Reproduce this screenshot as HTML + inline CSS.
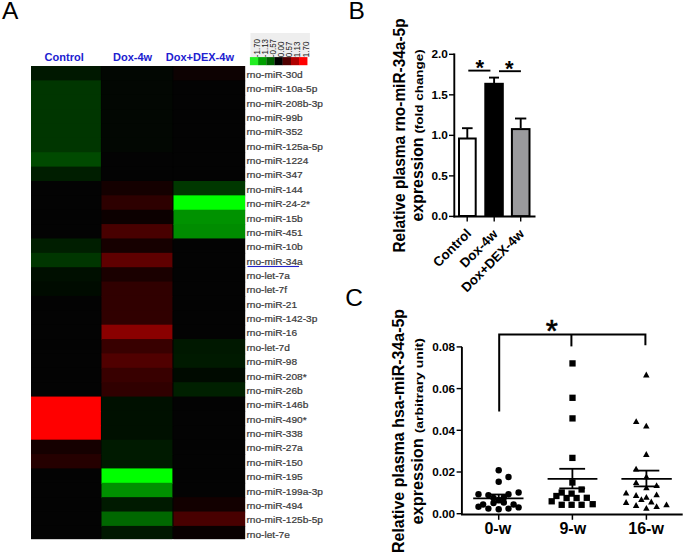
<!DOCTYPE html>
<html><head><meta charset="utf-8"><title>Figure</title><style>
*{margin:0;padding:0}
html,body{width:685px;height:555px;overflow:hidden;background:#fff}
svg{display:block}
text{font-family:"Liberation Sans", sans-serif}
.lab{font-size:9.2px;fill:#3a3a3a;stroke:#3a3a3a;stroke-width:0.22px}
.hdr{font-size:11px;font-weight:bold;fill:#2020d0}
.cbn{font-size:8px;fill:#222}
.big{font-size:24.5px;fill:#000}
.tkB{font-size:11.8px;font-weight:bold}
.star{font-size:22px;font-weight:bold}
.star2{font-size:31px;stroke:#000;stroke-width:0.6px}
.ytB1{font-size:16px;font-weight:bold}
.ytB2{font-size:16px;font-weight:bold}
.ytB3{font-size:11.8px;font-weight:bold}
.xlB{font-size:13.3px;font-weight:bold}
.tkC{font-size:10.8px;font-weight:bold}
.xlC{font-size:16px;font-weight:bold}
.ytC1{font-size:16.6px;font-weight:bold}
.ytC2{font-size:16px;font-weight:bold}
.ytC3{font-size:11.8px;font-weight:bold}
</style></head>
<body><svg width="685" height="555" viewBox="0 0 685 555">
<rect x="31" y="66.0" width="214.1" height="473.10" fill="#020202"/>
<rect x="31" y="66.00" width="69.9" height="15.37" fill="rgb(0, 24, 0)"/>
<rect x="101.5" y="66.00" width="70.9" height="15.37" fill="rgb(2, 7, 2)"/>
<rect x="173.5" y="66.00" width="71.6" height="15.37" fill="rgb(13, 2, 2)"/>
<rect x="31" y="80.37" width="69.9" height="15.37" fill="rgb(0, 54, 0)"/>
<rect x="101.5" y="80.37" width="70.9" height="15.37" fill="rgb(2, 7, 2)"/>
<rect x="173.5" y="80.37" width="71.6" height="15.37" fill="rgb(3, 3, 3)"/>
<rect x="31" y="94.74" width="69.9" height="15.37" fill="rgb(0, 54, 0)"/>
<rect x="101.5" y="94.74" width="70.9" height="15.37" fill="rgb(2, 7, 2)"/>
<rect x="173.5" y="94.74" width="71.6" height="15.37" fill="rgb(3, 3, 3)"/>
<rect x="31" y="109.12" width="69.9" height="15.37" fill="rgb(0, 54, 0)"/>
<rect x="101.5" y="109.12" width="70.9" height="15.37" fill="rgb(2, 7, 2)"/>
<rect x="173.5" y="109.12" width="71.6" height="15.37" fill="rgb(3, 3, 3)"/>
<rect x="31" y="123.49" width="69.9" height="15.37" fill="rgb(0, 54, 0)"/>
<rect x="101.5" y="123.49" width="70.9" height="15.37" fill="rgb(2, 7, 2)"/>
<rect x="173.5" y="123.49" width="71.6" height="15.37" fill="rgb(3, 3, 3)"/>
<rect x="31" y="137.86" width="69.9" height="15.37" fill="rgb(0, 54, 0)"/>
<rect x="101.5" y="137.86" width="70.9" height="15.37" fill="rgb(2, 7, 2)"/>
<rect x="173.5" y="137.86" width="71.6" height="15.37" fill="rgb(3, 3, 3)"/>
<rect x="31" y="152.23" width="69.9" height="15.37" fill="rgb(0, 74, 0)"/>
<rect x="101.5" y="152.23" width="70.9" height="15.37" fill="rgb(3, 3, 3)"/>
<rect x="173.5" y="152.23" width="71.6" height="15.37" fill="rgb(3, 3, 3)"/>
<rect x="31" y="166.60" width="69.9" height="15.37" fill="rgb(0, 30, 0)"/>
<rect x="101.5" y="166.60" width="70.9" height="15.37" fill="rgb(3, 3, 3)"/>
<rect x="173.5" y="166.60" width="71.6" height="15.37" fill="rgb(3, 3, 3)"/>
<rect x="31" y="180.98" width="69.9" height="15.37" fill="rgb(3, 3, 3)"/>
<rect x="101.5" y="180.98" width="70.9" height="15.37" fill="rgb(20, 0, 0)"/>
<rect x="173.5" y="180.98" width="71.6" height="15.37" fill="rgb(0, 56, 0)"/>
<rect x="31" y="195.35" width="69.9" height="15.37" fill="rgb(3, 3, 3)"/>
<rect x="101.5" y="195.35" width="70.9" height="15.37" fill="rgb(45, 0, 0)"/>
<rect x="173.5" y="195.35" width="71.6" height="15.37" fill="rgb(0, 255, 0)"/>
<rect x="31" y="209.72" width="69.9" height="15.37" fill="rgb(3, 3, 3)"/>
<rect x="101.5" y="209.72" width="70.9" height="15.37" fill="rgb(12, 0, 0)"/>
<rect x="173.5" y="209.72" width="71.6" height="15.37" fill="rgb(0, 146, 0)"/>
<rect x="31" y="224.09" width="69.9" height="15.37" fill="rgb(3, 3, 3)"/>
<rect x="101.5" y="224.09" width="70.9" height="15.37" fill="rgb(72, 0, 0)"/>
<rect x="173.5" y="224.09" width="71.6" height="15.37" fill="rgb(0, 140, 0)"/>
<rect x="31" y="238.46" width="69.9" height="15.37" fill="rgb(0, 30, 0)"/>
<rect x="101.5" y="238.46" width="70.9" height="15.37" fill="rgb(22, 0, 0)"/>
<rect x="173.5" y="238.46" width="71.6" height="15.37" fill="rgb(3, 3, 3)"/>
<rect x="31" y="252.84" width="69.9" height="15.37" fill="rgb(0, 54, 0)"/>
<rect x="101.5" y="252.84" width="70.9" height="15.37" fill="rgb(95, 0, 0)"/>
<rect x="173.5" y="252.84" width="71.6" height="15.37" fill="rgb(3, 3, 3)"/>
<rect x="31" y="267.21" width="69.9" height="15.37" fill="rgb(0, 15, 0)"/>
<rect x="101.5" y="267.21" width="70.9" height="15.37" fill="rgb(26, 0, 0)"/>
<rect x="173.5" y="267.21" width="71.6" height="15.37" fill="rgb(3, 3, 3)"/>
<rect x="31" y="281.58" width="69.9" height="15.37" fill="rgb(0, 11, 0)"/>
<rect x="101.5" y="281.58" width="70.9" height="15.37" fill="rgb(48, 0, 0)"/>
<rect x="173.5" y="281.58" width="71.6" height="15.37" fill="rgb(3, 3, 3)"/>
<rect x="31" y="295.95" width="69.9" height="15.37" fill="rgb(3, 3, 3)"/>
<rect x="101.5" y="295.95" width="70.9" height="15.37" fill="rgb(48, 0, 0)"/>
<rect x="173.5" y="295.95" width="71.6" height="15.37" fill="rgb(3, 3, 3)"/>
<rect x="31" y="310.32" width="69.9" height="15.37" fill="rgb(3, 3, 3)"/>
<rect x="101.5" y="310.32" width="70.9" height="15.37" fill="rgb(48, 0, 0)"/>
<rect x="173.5" y="310.32" width="71.6" height="15.37" fill="rgb(3, 3, 3)"/>
<rect x="31" y="324.70" width="69.9" height="15.37" fill="rgb(3, 3, 3)"/>
<rect x="101.5" y="324.70" width="70.9" height="15.37" fill="rgb(138, 0, 0)"/>
<rect x="173.5" y="324.70" width="71.6" height="15.37" fill="rgb(3, 3, 3)"/>
<rect x="31" y="339.07" width="69.9" height="15.37" fill="rgb(3, 3, 3)"/>
<rect x="101.5" y="339.07" width="70.9" height="15.37" fill="rgb(56, 0, 0)"/>
<rect x="173.5" y="339.07" width="71.6" height="15.37" fill="rgb(0, 24, 0)"/>
<rect x="31" y="353.44" width="69.9" height="15.37" fill="rgb(3, 3, 3)"/>
<rect x="101.5" y="353.44" width="70.9" height="15.37" fill="rgb(80, 0, 0)"/>
<rect x="173.5" y="353.44" width="71.6" height="15.37" fill="rgb(0, 26, 0)"/>
<rect x="31" y="367.81" width="69.9" height="15.37" fill="rgb(3, 3, 3)"/>
<rect x="101.5" y="367.81" width="70.9" height="15.37" fill="rgb(56, 0, 0)"/>
<rect x="173.5" y="367.81" width="71.6" height="15.37" fill="rgb(0, 10, 0)"/>
<rect x="31" y="382.18" width="69.9" height="15.37" fill="rgb(3, 3, 3)"/>
<rect x="101.5" y="382.18" width="70.9" height="15.37" fill="rgb(48, 0, 0)"/>
<rect x="173.5" y="382.18" width="71.6" height="15.37" fill="rgb(0, 32, 0)"/>
<rect x="31" y="396.56" width="69.9" height="15.37" fill="rgb(255, 0, 0)"/>
<rect x="101.5" y="396.56" width="70.9" height="15.37" fill="rgb(0, 16, 0)"/>
<rect x="173.5" y="396.56" width="71.6" height="15.37" fill="rgb(3, 3, 3)"/>
<rect x="31" y="410.93" width="69.9" height="15.37" fill="rgb(255, 0, 0)"/>
<rect x="101.5" y="410.93" width="70.9" height="15.37" fill="rgb(0, 16, 0)"/>
<rect x="173.5" y="410.93" width="71.6" height="15.37" fill="rgb(3, 3, 3)"/>
<rect x="31" y="425.30" width="69.9" height="15.37" fill="rgb(255, 0, 0)"/>
<rect x="101.5" y="425.30" width="70.9" height="15.37" fill="rgb(0, 16, 0)"/>
<rect x="173.5" y="425.30" width="71.6" height="15.37" fill="rgb(3, 3, 3)"/>
<rect x="31" y="439.67" width="69.9" height="15.37" fill="rgb(21, 0, 0)"/>
<rect x="101.5" y="439.67" width="70.9" height="15.37" fill="rgb(0, 26, 0)"/>
<rect x="173.5" y="439.67" width="71.6" height="15.37" fill="rgb(3, 3, 3)"/>
<rect x="31" y="454.04" width="69.9" height="15.37" fill="rgb(37, 0, 0)"/>
<rect x="101.5" y="454.04" width="70.9" height="15.37" fill="rgb(0, 26, 0)"/>
<rect x="173.5" y="454.04" width="71.6" height="15.37" fill="rgb(3, 3, 3)"/>
<rect x="31" y="468.42" width="69.9" height="15.37" fill="rgb(3, 3, 3)"/>
<rect x="101.5" y="468.42" width="70.9" height="15.37" fill="rgb(0, 255, 0)"/>
<rect x="173.5" y="468.42" width="71.6" height="15.37" fill="rgb(3, 3, 3)"/>
<rect x="31" y="482.79" width="69.9" height="15.37" fill="rgb(3, 3, 3)"/>
<rect x="101.5" y="482.79" width="70.9" height="15.37" fill="rgb(0, 144, 0)"/>
<rect x="173.5" y="482.79" width="71.6" height="15.37" fill="rgb(3, 3, 3)"/>
<rect x="31" y="497.16" width="69.9" height="15.37" fill="rgb(3, 3, 3)"/>
<rect x="101.5" y="497.16" width="70.9" height="15.37" fill="rgb(0, 26, 0)"/>
<rect x="173.5" y="497.16" width="71.6" height="15.37" fill="rgb(18, 0, 0)"/>
<rect x="31" y="511.53" width="69.9" height="15.37" fill="rgb(3, 3, 3)"/>
<rect x="101.5" y="511.53" width="70.9" height="15.37" fill="rgb(0, 104, 0)"/>
<rect x="173.5" y="511.53" width="71.6" height="15.37" fill="rgb(72, 0, 0)"/>
<rect x="31" y="525.90" width="69.9" height="13.20" fill="rgb(3, 3, 3)"/>
<rect x="101.5" y="525.90" width="70.9" height="13.20" fill="rgb(0, 24, 0)"/>
<rect x="173.5" y="525.90" width="71.6" height="13.20" fill="rgb(8, 0, 0)"/>
<g transform="translate(246.5,0) scale(1.1,1)">
<text x="0" y="77.80" class="lab">rno-miR-30d</text>
<text x="0" y="92.17" class="lab">rno-miR-10a-5p</text>
<text x="0" y="106.54" class="lab">rno-miR-208b-3p</text>
<text x="0" y="120.92" class="lab">rno-miR-99b</text>
<text x="0" y="135.29" class="lab">rno-miR-352</text>
<text x="0" y="149.66" class="lab">rno-miR-125a-5p</text>
<text x="0" y="164.03" class="lab">rno-miR-1224</text>
<text x="0" y="178.40" class="lab">rno-miR-347</text>
<text x="0" y="192.78" class="lab">rno-miR-144</text>
<text x="0" y="207.15" class="lab">rno-miR-24-2*</text>
<text x="0" y="221.52" class="lab">rno-miR-15b</text>
<text x="0" y="235.89" class="lab">rno-miR-451</text>
<text x="0" y="250.26" class="lab">rno-miR-10b</text>
<text x="0" y="264.64" class="lab">rno-miR-34a</text>
<text x="0" y="279.01" class="lab">rno-let-7a</text>
<text x="0" y="293.38" class="lab">rno-let-7f</text>
<text x="0" y="307.75" class="lab">rno-miR-21</text>
<text x="0" y="322.12" class="lab">rno-miR-142-3p</text>
<text x="0" y="336.50" class="lab">rno-miR-16</text>
<text x="0" y="350.87" class="lab">rno-let-7d</text>
<text x="0" y="365.24" class="lab">rno-miR-98</text>
<text x="0" y="379.61" class="lab">rno-miR-208*</text>
<text x="0" y="393.98" class="lab">rno-miR-26b</text>
<text x="0" y="408.36" class="lab">rno-miR-146b</text>
<text x="0" y="422.73" class="lab">rno-miR-490*</text>
<text x="0" y="437.10" class="lab">rno-miR-338</text>
<text x="0" y="451.47" class="lab">rno-miR-27a</text>
<text x="0" y="465.84" class="lab">rno-miR-150</text>
<text x="0" y="480.22" class="lab">rno-miR-195</text>
<text x="0" y="494.59" class="lab">rno-miR-199a-3p</text>
<text x="0" y="508.96" class="lab">rno-miR-494</text>
<text x="0" y="523.33" class="lab">rno-miR-125b-5p</text>
<text x="0" y="537.70" class="lab">rno-let-7e</text>
</g>
<rect x="247.5" y="265.94" width="51.5" height="1.1" fill="#2424c8"/>
<text x="44.6" y="60.8" class="hdr">Control</text>
<text x="113" y="60.8" class="hdr">Dox-4w</text>
<text x="165.8" y="60.8" class="hdr">Dox+DEX-4w</text>
<rect x="250.5" y="33.0" width="59.4" height="24" fill="#eeeeee"/>
<rect x="249.90" y="57.1" width="8.4" height="8.1" fill="rgb(34, 238, 34)"/>
<rect x="258.09" y="57.1" width="8.4" height="8.1" fill="rgb(0, 160, 0)"/>
<rect x="266.28" y="57.1" width="8.4" height="8.1" fill="rgb(0, 96, 0)"/>
<rect x="274.47" y="57.1" width="8.4" height="8.1" fill="rgb(0, 0, 0)"/>
<rect x="282.66" y="57.1" width="8.4" height="8.1" fill="rgb(80, 0, 0)"/>
<rect x="290.85" y="57.1" width="8.4" height="8.1" fill="rgb(176, 0, 0)"/>
<rect x="299.04" y="57.1" width="8.4" height="8.1" fill="rgb(255, 0, 0)"/>
<text transform="translate(259.50,57.2) rotate(-90) scale(1,1.2)" class="cbn">-1.70</text>
<text transform="translate(267.69,57.2) rotate(-90) scale(1,1.2)" class="cbn">-1.13</text>
<text transform="translate(275.88,57.2) rotate(-90) scale(1,1.2)" class="cbn">-0.57</text>
<text transform="translate(284.07,57.2) rotate(-90) scale(1,1.2)" class="cbn">0.00</text>
<text transform="translate(292.26,57.2) rotate(-90) scale(1,1.2)" class="cbn">0.57</text>
<text transform="translate(300.45,57.2) rotate(-90) scale(1,1.2)" class="cbn">1.13</text>
<text transform="translate(308.64,57.2) rotate(-90) scale(1,1.2)" class="cbn">1.70</text>
<text x="2.1" y="19.3" class="big">A</text>
<text x="348.4" y="19.4" class="big">B</text>
<text x="345.3" y="306.0" class="big">C</text>
<g stroke="#000" fill="none">
<line x1="454.3" y1="53.40" x2="454.3" y2="217.4" stroke-width="1.9"/>
<line x1="453.4" y1="216.5" x2="535.5" y2="216.5" stroke-width="1.9"/>
<line x1="449" y1="216.40" x2="454" y2="216.40" stroke-width="1.4"/>
<line x1="449" y1="175.88" x2="454" y2="175.88" stroke-width="1.4"/>
<line x1="449" y1="135.35" x2="454" y2="135.35" stroke-width="1.4"/>
<line x1="449" y1="94.83" x2="454" y2="94.83" stroke-width="1.4"/>
<line x1="449" y1="54.30" x2="454" y2="54.30" stroke-width="1.4"/>
<line x1="467.2" y1="216" x2="467.2" y2="221.5" stroke-width="1.4"/>
<line x1="494.2" y1="216" x2="494.2" y2="221.5" stroke-width="1.4"/>
<line x1="520.7" y1="216" x2="520.7" y2="221.5" stroke-width="1.4"/>
</g>
<text x="447.8" y="220.30" class="tkB" text-anchor="end">0.0</text>
<text x="447.8" y="179.78" class="tkB" text-anchor="end">0.5</text>
<text x="447.8" y="139.25" class="tkB" text-anchor="end">1.0</text>
<text x="447.8" y="98.73" class="tkB" text-anchor="end">1.5</text>
<text x="447.8" y="58.20" class="tkB" text-anchor="end">2.0</text>
<rect x="459.0" y="138.5" width="16.7" height="77.5" fill="#fff" stroke="#000" stroke-width="2"/>
<rect x="484.3" y="82.8" width="19.5" height="133.5" fill="#000"/>
<rect x="511.9" y="129.1" width="17.6" height="87" fill="#9a9a9d" stroke="#000" stroke-width="2"/>
<g stroke="#000" stroke-width="1.9">
<line x1="467.3" y1="138" x2="467.3" y2="128"/><line x1="462" y1="128.2" x2="472.6" y2="128.2"/>
<line x1="494.1" y1="83" x2="494.1" y2="77.6"/><line x1="489" y1="77.6" x2="499" y2="77.6"/>
<line x1="520.7" y1="128" x2="520.7" y2="118.5"/><line x1="515" y1="118.5" x2="526.3" y2="118.5"/>
<line x1="468.3" y1="70.6" x2="490.4" y2="70.6"/><line x1="499" y1="71.2" x2="520.9" y2="71.2"/>
</g>
<text x="479.9" y="75.3" class="star" text-anchor="middle">*</text>
<text x="509.3" y="75.9" class="star" text-anchor="middle">*</text>
<text transform="translate(404.6,252.6) rotate(-90)" class="ytB1" textLength="234.2" lengthAdjust="spacingAndGlyphs">Relative plasma rno-miR-34a-5p</text>
<text transform="translate(422.8,221.6) rotate(-90)" class="ytB2" textLength="84.2" lengthAdjust="spacingAndGlyphs">expression</text>
<text transform="translate(422.6,133.6) rotate(-90)" class="ytB3" textLength="84.3" lengthAdjust="spacingAndGlyphs">(fold change)</text>
<text transform="translate(472.0,234.3) rotate(-45)" class="xlB" text-anchor="end">Control</text>
<text transform="translate(498.6,235.0) rotate(-45)" class="xlB" text-anchor="end">Dox-4w</text>
<text transform="translate(525.0,234.8) rotate(-45)" class="xlB" text-anchor="end">Dox+DEX-4w</text>
<g stroke="#000" fill="none">
<line x1="461.9" y1="346.90" x2="461.9" y2="514.8" stroke-width="1.9"/>
<line x1="461" y1="514.4" x2="682.7" y2="514.4" stroke-width="2"/>
<line x1="456.6" y1="513.70" x2="462" y2="513.70" stroke-width="1.4"/>
<line x1="456.6" y1="472.00" x2="462" y2="472.00" stroke-width="1.4"/>
<line x1="456.6" y1="430.30" x2="462" y2="430.30" stroke-width="1.4"/>
<line x1="456.6" y1="388.60" x2="462" y2="388.60" stroke-width="1.4"/>
<line x1="456.6" y1="346.90" x2="462" y2="346.90" stroke-width="1.4"/>
<line x1="498.7" y1="514" x2="498.7" y2="519.8" stroke-width="1.5"/>
<line x1="572.4" y1="514" x2="572.4" y2="519.8" stroke-width="1.5"/>
<line x1="646.4" y1="514" x2="646.4" y2="519.8" stroke-width="1.5"/>
<polyline points="499.2,411.4 499.2,334.6 645.4,334.6 645.4,345.3" stroke-width="2"/>
<line x1="571.4" y1="334.6" x2="571.4" y2="346.4" stroke-width="2"/>
</g>
<text x="551.9" y="342" class="star2" text-anchor="middle">*</text>
<text x="455" y="518.00" class="tkC" text-anchor="end" textLength="22.8" lengthAdjust="spacingAndGlyphs">0.00</text>
<text x="455" y="476.30" class="tkC" text-anchor="end" textLength="22.8" lengthAdjust="spacingAndGlyphs">0.02</text>
<text x="455" y="434.60" class="tkC" text-anchor="end" textLength="22.8" lengthAdjust="spacingAndGlyphs">0.04</text>
<text x="455" y="392.90" class="tkC" text-anchor="end" textLength="22.8" lengthAdjust="spacingAndGlyphs">0.06</text>
<text x="455" y="351.20" class="tkC" text-anchor="end" textLength="22.8" lengthAdjust="spacingAndGlyphs">0.08</text>
<text x="497.8" y="534.1" class="xlC" text-anchor="middle">0-w</text>
<text x="572.8" y="534.1" class="xlC" text-anchor="middle">9-w</text>
<text x="646.1" y="534.1" class="xlC" text-anchor="middle">16-w</text>
<text transform="translate(403.8,553.0) rotate(-90)" class="ytC1" textLength="244.1" lengthAdjust="spacingAndGlyphs">Relative plasma hsa-miR-34a-5p</text>
<text transform="translate(423.2,524.5) rotate(-90)" class="ytC2" textLength="86.3" lengthAdjust="spacingAndGlyphs">expression</text>
<text transform="translate(422.8,433.3) rotate(-90)" class="ytC3" textLength="95.2" lengthAdjust="spacingAndGlyphs">(arbitrary unit)</text>
<circle cx="498.7" cy="470.3" r="3.2" fill="#000"/>
<circle cx="508.5" cy="477" r="3.2" fill="#000"/>
<circle cx="498.7" cy="481.7" r="3.2" fill="#000"/>
<circle cx="478.5" cy="494.2" r="3.2" fill="#000"/>
<circle cx="488.4" cy="495.1" r="3.2" fill="#000"/>
<circle cx="508.5" cy="494.2" r="3.2" fill="#000"/>
<circle cx="518.6" cy="492.5" r="3.2" fill="#000"/>
<circle cx="478.5" cy="506.8" r="3.2" fill="#000"/>
<circle cx="483.1" cy="504.5" r="3.2" fill="#000"/>
<circle cx="488.4" cy="508.6" r="3.2" fill="#000"/>
<circle cx="493.5" cy="503" r="3.2" fill="#000"/>
<circle cx="498.7" cy="509.2" r="3.2" fill="#000"/>
<circle cx="503.8" cy="502.5" r="3.2" fill="#000"/>
<circle cx="508.5" cy="508.6" r="3.2" fill="#000"/>
<circle cx="513.6" cy="504.5" r="3.2" fill="#000"/>
<circle cx="518.6" cy="507.4" r="3.2" fill="#000"/>
<circle cx="493.5" cy="498" r="3.2" fill="#000"/>
<circle cx="503.8" cy="497.5" r="3.2" fill="#000"/>
<circle cx="498.7" cy="500" r="3.2" fill="#000"/>
<rect x="569.35" y="360.25" width="6.3" height="6.3" fill="#000"/>
<rect x="569.35" y="394.65" width="6.3" height="6.3" fill="#000"/>
<rect x="569.35" y="415.25" width="6.3" height="6.3" fill="#000"/>
<rect x="569.25" y="454.75" width="6.3" height="6.3" fill="#000"/>
<rect x="569.25" y="479.35" width="6.3" height="6.3" fill="#000"/>
<rect x="548.55" y="498.15" width="6.3" height="6.3" fill="#000"/>
<rect x="553.25" y="492.85" width="6.3" height="6.3" fill="#000"/>
<rect x="558.55" y="489.35" width="6.3" height="6.3" fill="#000"/>
<rect x="558.55" y="501.65" width="6.3" height="6.3" fill="#000"/>
<rect x="563.45" y="494.85" width="6.3" height="6.3" fill="#000"/>
<rect x="568.45" y="490.45" width="6.3" height="6.3" fill="#000"/>
<rect x="568.45" y="501.65" width="6.3" height="6.3" fill="#000"/>
<rect x="573.45" y="494.85" width="6.3" height="6.3" fill="#000"/>
<rect x="578.45" y="486.35" width="6.3" height="6.3" fill="#000"/>
<rect x="578.45" y="501.65" width="6.3" height="6.3" fill="#000"/>
<rect x="583.65" y="494.65" width="6.3" height="6.3" fill="#000"/>
<rect x="589.55" y="501.05" width="6.3" height="6.3" fill="#000"/>
<polygon points="643.05,377.40 649.55,377.40 646.30,371.60" fill="#000"/>
<polygon points="632.95,424.10 639.45,424.10 636.20,418.30" fill="#000"/>
<polygon points="643.05,428.60 649.55,428.60 646.30,422.80" fill="#000"/>
<polygon points="643.05,456.90 649.55,456.90 646.30,451.10" fill="#000"/>
<polygon points="632.85,471.60 639.35,471.60 636.10,465.80" fill="#000"/>
<polygon points="643.15,479.20 649.65,479.20 646.40,473.40" fill="#000"/>
<polygon points="632.85,485.00 639.35,485.00 636.10,479.20" fill="#000"/>
<polygon points="653.35,488.00 659.85,488.00 656.60,482.20" fill="#000"/>
<polygon points="622.85,495.60 629.35,495.60 626.10,489.80" fill="#000"/>
<polygon points="632.85,497.90 639.35,497.90 636.10,492.10" fill="#000"/>
<polygon points="638.15,502.00 644.65,502.00 641.40,496.20" fill="#000"/>
<polygon points="643.15,499.70 649.65,499.70 646.40,493.90" fill="#000"/>
<polygon points="653.35,497.30 659.85,497.30 656.60,491.50" fill="#000"/>
<polygon points="622.85,504.90 629.35,504.90 626.10,499.10" fill="#000"/>
<polygon points="632.85,507.90 639.35,507.90 636.10,502.10" fill="#000"/>
<polygon points="648.05,504.40 654.55,504.40 651.30,498.60" fill="#000"/>
<polygon points="643.15,510.80 649.65,510.80 646.40,505.00" fill="#000"/>
<polygon points="653.35,509.10 659.85,509.10 656.60,503.30" fill="#000"/>
<polygon points="663.25,507.30 669.75,507.30 666.50,501.50" fill="#000"/>
<polygon points="643.15,490.30 649.65,490.30 646.40,484.50" fill="#000"/>
<g stroke="#000" stroke-width="1.8">
<line x1="473.2" y1="498.4" x2="523.5" y2="498.4"/>
<line x1="498.7" y1="494" x2="498.7" y2="503"/><line x1="491" y1="494.5" x2="506" y2="494.5"/><line x1="491" y1="502.5" x2="506" y2="502.5"/>
<line x1="547.6" y1="478.8" x2="597.4" y2="478.8"/>
<line x1="572.4" y1="468.8" x2="572.4" y2="488.4"/><line x1="559.3" y1="468.8" x2="585.1" y2="468.8"/><line x1="559.3" y1="488.4" x2="585.1" y2="488.4"/>
<line x1="621.4" y1="478.8" x2="671.8" y2="478.8"/>
<line x1="646.4" y1="470.6" x2="646.4" y2="486.4"/><line x1="633.7" y1="470.6" x2="659.3" y2="470.6"/><line x1="633.7" y1="486.4" x2="659.3" y2="486.4"/>
</g>
</svg></body></html>
